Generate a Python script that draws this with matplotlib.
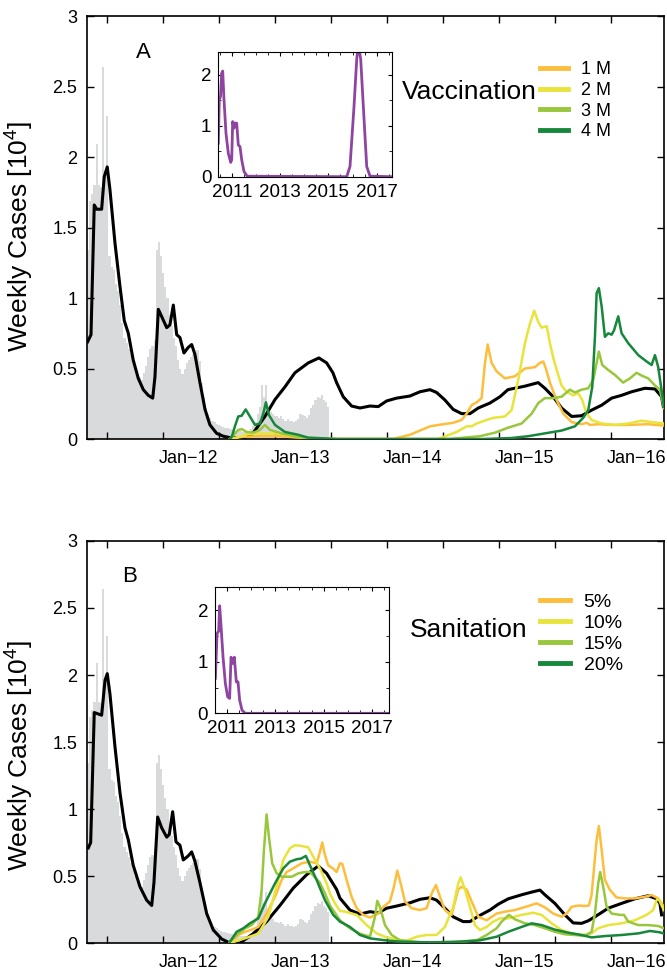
import numpy as np
import matplotlib.pyplot as plt

plt.rcParams['font.family'] = ['Liberation Sans', 'DejaVu Sans']
plt.rcParams['mathtext.fontset'] = 'custom'
plt.rcParams['mathtext.rm'] = 'Liberation Sans'

# reported weekly cases (x 10^4), one value per week from week_start
week_start = 2011.067
weekly_cases = [1.34, 1.69, 1.74, 1.80, 2.09, 1.80, 1.79, 2.64, 1.90, 2.29,
                1.30, 1.22, 1.20, 1.10, 1.05, 0.95, 0.82, 0.72, 0.68, 0.64,
                0.60, 0.55, 0.50, 0.46, 0.44, 0.42, 0.47, 0.52, 0.58, 0.64,
                0.66, 0.70, 1.34, 1.40, 1.30, 1.18, 1.08, 1.00, 0.88, 0.80,
                0.72, 0.66, 0.56, 0.50, 0.46, 0.50, 0.54, 0.56, 0.58, 0.60,
                0.62, 0.63, 0.55, 0.40, 0.30, 0.22, 0.18, 0.15, 0.13, 0.12,
                0.11, 0.10, 0.09, 0.085, 0.08, 0.075, 0.07, 0.07, 0.065, 0.06,
                0.06, 0.055, 0.05, 0.05, 0.05, 0.06, 0.07, 0.09, 0.12, 0.18,
                0.23, 0.38, 0.30, 0.38, 0.23, 0.19, 0.18, 0.16, 0.16, 0.15,
                0.16, 0.14, 0.13, 0.14, 0.13, 0.13, 0.12, 0.13, 0.14, 0.18,
                0.17, 0.16, 0.15, 0.17, 0.22, 0.24, 0.28, 0.30, 0.29, 0.31,
                0.28, 0.26, 0.23]

# baseline model (black)
black_a_t = [2011.073, 2011.103, 2011.132, 2011.154, 2011.198, 2011.221, 2011.248, 2011.272,
             2011.317, 2011.362, 2011.400, 2011.436, 2011.480, 2011.525, 2011.570, 2011.614,
             2011.654, 2011.674, 2011.704, 2011.739, 2011.779, 2011.808, 2011.838, 2011.868,
             2011.897, 2011.933, 2011.971, 2012.002, 2012.031, 2012.076, 2012.121, 2012.165,
             2012.225, 2012.284, 2012.344, 2012.478, 2012.505, 2012.540, 2012.567, 2012.656,
             2012.746, 2012.835, 2012.924, 2013.043, 2013.138, 2013.207, 2013.263, 2013.296,
             2013.355, 2013.430, 2013.505, 2013.594, 2013.668, 2013.743, 2013.832, 2013.951,
             2014.040, 2014.130, 2014.189, 2014.263, 2014.337, 2014.413, 2014.487, 2014.561,
             2014.665, 2014.755, 2014.826, 2014.978, 2015.096, 2015.156, 2015.230, 2015.305,
             2015.395, 2015.484, 2015.573, 2015.663, 2015.752, 2015.841, 2015.930, 2016.049,
             2016.139, 2016.198, 2016.214]
black_a_v = [0.69, 0.74, 1.66, 1.63, 1.63, 1.86, 1.93, 1.77,
             1.39, 1.08, 0.84, 0.75, 0.56, 0.43, 0.35, 0.31,
             0.29, 0.44, 0.92, 0.86, 0.79, 0.81, 0.95, 0.74,
             0.72, 0.61, 0.65, 0.67, 0.60, 0.40, 0.21, 0.10,
             0.04, 0.02, 0.01, 0.01, 0.03, 0.03, 0.06, 0.16,
             0.28, 0.37, 0.47, 0.54, 0.575, 0.54, 0.47, 0.40,
             0.30, 0.234, 0.22, 0.234, 0.23, 0.27, 0.29, 0.305,
             0.335, 0.35, 0.33, 0.277, 0.21, 0.18, 0.18, 0.22,
             0.255, 0.30, 0.35, 0.375, 0.40, 0.36, 0.30, 0.22,
             0.16, 0.165, 0.205, 0.24, 0.29, 0.31, 0.335, 0.36,
             0.355, 0.30, 0.23]

black_b_t = [2011.079, 2011.100, 2011.132, 2011.198, 2011.228, 2011.248, 2011.272, 2011.317,
             2011.362, 2011.406, 2011.436, 2011.480, 2011.540, 2011.600, 2011.645, 2011.665,
             2011.698, 2011.734, 2011.779, 2011.802, 2011.832, 2011.862, 2011.897, 2011.927,
             2011.971, 2012.002, 2012.031, 2012.076, 2012.136, 2012.195, 2012.270, 2012.344,
             2012.433, 2012.552, 2012.671, 2012.790, 2012.909, 2013.029, 2013.132, 2013.207,
             2013.296, 2013.326, 2013.415, 2013.505, 2013.594, 2013.668, 2013.743, 2013.832,
             2013.951, 2014.040, 2014.130, 2014.189, 2014.263, 2014.337, 2014.426, 2014.487,
             2014.561, 2014.665, 2014.740, 2014.829, 2014.948, 2015.038, 2015.112, 2015.156,
             2015.245, 2015.335, 2015.409, 2015.484, 2015.543, 2015.603, 2015.722, 2015.841,
             2015.960, 2016.079, 2016.154, 2016.183, 2016.198]
black_b_v = [0.71, 0.75, 1.72, 1.70, 1.96, 2.01, 1.86, 1.465,
             1.12, 0.86, 0.77, 0.58, 0.42, 0.32, 0.28, 0.45,
             0.94, 0.86, 0.79, 0.81, 0.98, 0.755, 0.73, 0.62,
             0.65, 0.68, 0.61, 0.45, 0.22, 0.097, 0.03, 0.0,
             0.0, 0.07, 0.16, 0.28, 0.41, 0.51, 0.575, 0.52,
             0.40, 0.335, 0.246, 0.216, 0.234, 0.225, 0.26, 0.276,
             0.30, 0.326, 0.338, 0.32, 0.26, 0.196, 0.16, 0.16,
             0.20, 0.246, 0.29, 0.33, 0.36, 0.38, 0.395, 0.36,
             0.296, 0.21, 0.15, 0.147, 0.166, 0.196, 0.26, 0.296,
             0.33, 0.353, 0.33, 0.296, 0.21]

# vaccination scenarios
vac_1m_t = [2012.344, 2012.45, 2012.6, 2012.8, 2012.95, 2013.1, 2013.8, 2013.951, 2014.040,
            2014.130, 2014.248, 2014.337, 2014.413, 2014.457, 2014.502, 2014.546, 2014.591,
            2014.621, 2014.645, 2014.680, 2014.725, 2014.799, 2014.888, 2014.978, 2015.067,
            2015.111, 2015.141, 2015.165, 2015.201, 2015.260, 2015.320, 2015.395, 2015.484,
            2015.529, 2015.558, 2015.632, 2015.752, 2015.900, 2016.076, 2016.219]
vac_1m_v = [0.0, 0.015, 0.02, 0.02, 0.01, 0.0, 0.0, 0.03, 0.06,
            0.09, 0.105, 0.115, 0.135, 0.18, 0.24, 0.26, 0.29,
            0.54, 0.67, 0.54, 0.48, 0.43, 0.445, 0.50, 0.51,
            0.54, 0.55, 0.50, 0.40, 0.277, 0.18, 0.12, 0.105,
            0.115, 0.10, 0.105, 0.10, 0.10, 0.105, 0.095]

vac_2m_t = [2012.344, 2012.45, 2012.505, 2012.62, 2012.78, 2012.92, 2013.05, 2013.2, 2014.2,
            2014.368, 2014.457, 2014.502, 2014.546, 2014.635, 2014.695, 2014.799, 2014.859,
            2014.918, 2014.978, 2015.023, 2015.061, 2015.097, 2015.127, 2015.172, 2015.201,
            2015.231, 2015.261, 2015.305, 2015.350, 2015.409, 2015.454, 2015.489, 2015.529,
            2015.573, 2015.663, 2015.781, 2015.900, 2016.019, 2016.109, 2016.219]
vac_2m_v = [0.0, 0.02, 0.035, 0.04, 0.038, 0.02, 0.01, 0.0, 0.0,
            0.05, 0.09, 0.09, 0.11, 0.135, 0.15, 0.16, 0.205,
            0.42, 0.68, 0.82, 0.91, 0.83, 0.79, 0.80, 0.68,
            0.575, 0.49, 0.38, 0.335, 0.31, 0.325, 0.277, 0.18,
            0.135, 0.11, 0.10, 0.11, 0.13, 0.12, 0.11]

vac_3m_t = [2012.344, 2012.418, 2012.451, 2012.493, 2012.552, 2012.612, 2012.656, 2012.701,
            2012.805, 2012.924, 2013.040, 2013.3, 2014.3, 2014.576, 2014.710, 2014.826,
            2014.948, 2015.038, 2015.097, 2015.156, 2015.230, 2015.305, 2015.379, 2015.424,
            2015.484, 2015.543, 2015.588, 2015.618, 2015.638, 2015.668, 2015.721, 2015.781,
            2015.855, 2015.915, 2015.975, 2016.020, 2016.079, 2016.139, 2016.183, 2016.219]
vac_3m_v = [0.0, 0.065, 0.07, 0.05, 0.045, 0.065, 0.10, 0.065,
            0.04, 0.02, 0.005, 0.0, 0.0, 0.02, 0.045, 0.08,
            0.11, 0.18, 0.255, 0.29, 0.29, 0.30, 0.35, 0.33,
            0.35, 0.36, 0.42, 0.54, 0.62, 0.525, 0.49, 0.455,
            0.40, 0.43, 0.47, 0.45, 0.43, 0.38, 0.35, 0.22]

vac_4m_t = [2012.344, 2012.362, 2012.388, 2012.418, 2012.448, 2012.484, 2012.522, 2012.567,
            2012.612, 2012.641, 2012.665, 2012.692, 2012.746, 2012.835, 2012.954, 2013.040,
            2013.3, 2014.6, 2014.859, 2015.007, 2015.156, 2015.305, 2015.424, 2015.498,
            2015.543, 2015.579, 2015.603, 2015.618, 2015.638, 2015.663, 2015.692, 2015.722,
            2015.752, 2015.773, 2015.811, 2015.841, 2015.900, 2015.990, 2016.064, 2016.109,
            2016.139, 2016.168, 2016.219]
vac_4m_v = [0.0, 0.02, 0.09, 0.16, 0.165, 0.21, 0.16, 0.10,
            0.11, 0.18, 0.26, 0.17, 0.10, 0.05, 0.03, 0.01,
            0.0, 0.0, 0.007, 0.02, 0.04, 0.06, 0.09, 0.15,
            0.205, 0.37, 0.725, 1.035, 1.07, 0.94, 0.725, 0.75,
            0.74, 0.77, 0.87, 0.75, 0.68, 0.595, 0.55, 0.525,
            0.595, 0.51, 0.23]

# sanitation scenarios
san_5_t = [2012.344, 2012.418, 2012.478, 2012.538, 2012.597, 2012.671, 2012.746, 2012.805,
           2012.850, 2012.909, 2012.984, 2013.058, 2013.118, 2013.147, 2013.168, 2013.192,
           2013.221, 2013.263, 2013.296, 2013.326, 2013.347, 2013.386, 2013.430, 2013.475,
           2013.534, 2013.594, 2013.668, 2013.713, 2013.772, 2013.808, 2013.838, 2013.868,
           2013.906, 2013.966, 2014.040, 2014.100, 2014.145, 2014.183, 2014.219, 2014.263,
           2014.323, 2014.382, 2014.413, 2014.457, 2014.502, 2014.561, 2014.636, 2014.725,
           2014.799, 2014.888, 2015.007, 2015.082, 2015.156, 2015.230, 2015.305, 2015.350,
           2015.395, 2015.454, 2015.513, 2015.549, 2015.573, 2015.596, 2015.618, 2015.638,
           2015.663, 2015.692, 2015.737, 2015.796, 2015.871, 2015.960, 2016.049, 2016.109,
           2016.168, 2016.219]
san_5_v = [0.0, 0.06, 0.084, 0.10, 0.12, 0.22, 0.345, 0.47,
           0.53, 0.557, 0.595, 0.607, 0.595, 0.68, 0.75, 0.657,
           0.58, 0.557, 0.53, 0.595, 0.59, 0.47, 0.345, 0.26,
           0.21, 0.19, 0.22, 0.27, 0.31, 0.42, 0.54, 0.445,
           0.31, 0.26, 0.246, 0.26, 0.37, 0.433, 0.345, 0.246,
           0.21, 0.40, 0.42, 0.40, 0.31, 0.196, 0.17, 0.22,
           0.234, 0.246, 0.276, 0.296, 0.266, 0.22, 0.196, 0.22,
           0.27, 0.28, 0.276, 0.28, 0.358, 0.57, 0.77, 0.873,
           0.694, 0.47, 0.396, 0.34, 0.333, 0.333, 0.345, 0.358,
           0.333, 0.27]

san_10_t = [2012.344, 2012.478, 2012.597, 2012.686, 2012.760, 2012.820, 2012.879, 2012.924,
            2012.984, 2013.043, 2013.088, 2013.147, 2013.207, 2013.237, 2013.281, 2013.326,
            2013.371, 2013.475, 2013.564, 2013.654, 2013.743, 2013.832, 2013.921, 2014.011,
            2014.100, 2014.189, 2014.263, 2014.337, 2014.382, 2014.404, 2014.442, 2014.487,
            2014.531, 2014.576, 2014.636, 2014.695, 2014.755, 2014.829, 2014.948, 2015.052,
            2015.127, 2015.216, 2015.305, 2015.395, 2015.484, 2015.573, 2015.632, 2015.722,
            2015.841, 2015.960, 2016.064, 2016.123, 2016.153, 2016.173, 2016.198, 2016.219]
san_10_v = [0.0, 0.035, 0.07, 0.196, 0.42, 0.62, 0.707, 0.73,
            0.724, 0.714, 0.644, 0.557, 0.445, 0.37, 0.296, 0.24,
            0.234, 0.21, 0.134, 0.072, 0.042, 0.027, 0.017, 0.047,
            0.06, 0.06, 0.12, 0.27, 0.445, 0.49, 0.40, 0.27,
            0.134, 0.097, 0.12, 0.16, 0.184, 0.184, 0.21, 0.226,
            0.21, 0.147, 0.097, 0.072, 0.06, 0.072, 0.11, 0.134,
            0.147, 0.17, 0.21, 0.246, 0.32, 0.33, 0.28, 0.246]

san_15_t = [2012.344, 2012.418, 2012.478, 2012.538, 2012.597, 2012.627, 2012.647, 2012.671,
            2012.692, 2012.721, 2012.761, 2012.805, 2012.895, 2012.954, 2013.013, 2013.058,
            2013.147, 2013.192, 2013.237, 2013.326, 2013.415, 2013.505, 2013.594, 2013.639,
            2013.659, 2013.683, 2013.728, 2013.788, 2013.862, 2014.040, 2014.308, 2014.546,
            2014.636, 2014.725, 2014.770, 2014.835, 2014.888, 2014.978, 2015.067, 2015.156,
            2015.245, 2015.335, 2015.424, 2015.513, 2015.573, 2015.603, 2015.632, 2015.650,
            2015.677, 2015.707, 2015.752, 2015.826, 2015.862, 2015.900, 2015.989, 2016.076,
            2016.168, 2016.219]
san_15_v = [0.01, 0.07, 0.11, 0.134, 0.196, 0.40, 0.69, 0.96,
            0.79, 0.595, 0.52, 0.495, 0.495, 0.52, 0.53, 0.53,
            0.45, 0.37, 0.28, 0.17, 0.11, 0.07, 0.047, 0.196,
            0.315, 0.27, 0.134, 0.06, 0.02, 0.005, 0.005, 0.02,
            0.06, 0.11, 0.16, 0.21, 0.177, 0.147, 0.134, 0.11,
            0.084, 0.065, 0.06, 0.052, 0.084, 0.22, 0.445, 0.53,
            0.42, 0.27, 0.22, 0.21, 0.21, 0.16, 0.134, 0.134,
            0.127, 0.11]

san_20_t = [2012.344, 2012.404, 2012.463, 2012.522, 2012.597, 2012.656, 2012.746, 2012.820,
            2012.879, 2012.939, 2012.978, 2013.022, 2013.058, 2013.118, 2013.192, 2013.266,
            2013.326, 2013.415, 2013.505, 2013.594, 2013.713, 2013.862, 2014.130, 2014.397,
            2014.576, 2014.725, 2014.829, 2014.948, 2015.038, 2015.127, 2015.245, 2015.364,
            2015.484, 2015.573, 2015.692, 2015.841, 2015.990, 2016.094, 2016.183, 2016.219]
san_20_v = [0.01, 0.084, 0.11, 0.147, 0.184, 0.296, 0.445, 0.557,
            0.607, 0.625, 0.63, 0.65, 0.58, 0.47, 0.32, 0.21,
            0.16, 0.12, 0.06, 0.035, 0.022, 0.01, 0.005, 0.01,
            0.02, 0.047, 0.084, 0.12, 0.147, 0.134, 0.10, 0.077,
            0.06, 0.042, 0.052, 0.06, 0.072, 0.09, 0.08, 0.07]

# long-run insets
inset_a_t = [2010.446, 2010.487, 2010.537, 2010.586, 2010.628, 2010.681, 2010.764, 2010.859,
             2010.959, 2011.0, 2011.041, 2011.095, 2011.137, 2011.207, 2011.273, 2011.343,
             2011.414, 2011.509, 2011.645, 2015.758, 2015.894, 2016.060, 2016.172, 2016.238,
             2016.337, 2016.445, 2016.585, 2016.722, 2017.62]
inset_a_v = [0.66, 1.51, 1.57, 2.03, 2.07, 1.51, 0.85, 0.46,
             0.28, 0.33, 1.08, 0.95, 1.05, 1.05, 0.62, 0.59,
             0.33, 0.10, 0.01, 0.0, 0.2, 1.38, 2.30, 2.60,
             2.30, 1.38, 0.2, 0.01, 0.0]

inset_b_t = [2010.517, 2010.587, 2010.653, 2010.694, 2010.752, 2010.835, 2010.930, 2011.025,
             2011.107, 2011.165, 2011.231, 2011.302, 2011.384, 2011.455, 2011.521, 2011.620,
             2011.756, 2017.694]
inset_b_v = [0.68, 1.55, 1.60, 2.09, 1.69, 1.09, 0.58, 0.32,
             0.29, 1.09, 0.97, 1.09, 0.61, 0.61, 0.26, 0.06,
             0.0, 0.0]

vac_labels = ['1 M', '2 M', '3 M', '4 M']
san_labels = ['5%', '10%', '15%', '20%']
scenario_colors = ['#fdbe3d', '#e8e43c', '#98c73c', '#17873b']
year_ticks = [2012, 2013, 2014, 2015, 2016]
year_labels = ['Jan\u221212', 'Jan\u221213', 'Jan\u221214', 'Jan\u221215', 'Jan\u221216']
inset_years = [2011, 2013, 2015, 2017]

xmin, xmax = 2011.067, 2016.219
week = 1 / 52.18
bar_t = week_start + (np.arange(len(weekly_cases)) + 0.5) * week


def draw_panel(ax, black_t, black_v, series, labels, title, letter, letter_xy, title_xy,
               legend_anchor, legend_size, legend_gap):
	ax.bar(bar_t, weekly_cases, width=week, color='#d9dadc', linewidth=0, zorder=1)
	ax.plot(black_t, black_v, color='black', lw=2.2, zorder=3)
	for (t, v), lab, c in zip(series, labels, scenario_colors):
		ax.plot(t, v, color=c, lw=1.8, label=lab, zorder=4)
	ax.set_xlim(xmin, xmax)
	ax.set_ylim(0, 3)
	ax.set_yticks(np.arange(0, 3.01, 0.5))
	ax.set_yticklabels(['0', '0.5', '1', '1.5', '2', '2.5', '3'])
	ax.set_xticks(np.arange(2011.25, 2016.0, 0.5))
	ax.set_xticklabels([])
	# month labels sit a little left of 1 January
	ax.set_xticks([y - 0.03 for y in year_ticks], minor=True)
	ax.set_xticklabels(year_labels, minor=True)
	ax.tick_params(which='both', direction='in', top=True, right=True, labelsize=13, width=1)
	ax.tick_params(which='major', length=5, pad=7)
	ax.tick_params(which='minor', length=0, pad=8)
	for s in ax.spines.values():
		s.set_linewidth(1.2)
	ax.set_ylabel('Weekly Cases [10$^4$]', fontsize=19)
	ax.text(letter_xy[0], letter_xy[1], letter, transform=ax.transAxes, fontsize=16,
	        ha='center', va='center')
	ax.text(title_xy[0], title_xy[1], title, transform=ax.transAxes, fontsize=19,
	        ha='left', va='center')
	ax.legend(loc='upper left', bbox_to_anchor=legend_anchor, frameon=False, fontsize=legend_size,
	          handlelength=1.55, handletextpad=0.7, labelspacing=legend_gap, borderaxespad=0,
	          borderpad=0)
	for line in ax.get_legend().get_lines():
		line.set_linewidth(3.5)


def draw_inset(ax, t, v, xlim):
	ax.plot(t, v, color='#8e44a0', lw=2)
	ax.set_xlim(*xlim)
	ax.set_ylim(0, 2.45)
	ax.set_xticks(inset_years)
	ax.set_xticks(np.arange(2010.5, 2017.7, 0.5), minor=True)
	ax.set_yticks([0, 1, 2])
	ax.set_yticks([0.5, 1.5], minor=True)
	ax.tick_params(which='both', direction='in', top=True, right=True, labelsize=13.5, pad=5)
	ax.tick_params(which='major', length=3)
	ax.tick_params(which='minor', length=2.5)


fig = plt.figure(figsize=(6.67, 9.73), dpi=100)
ax_a = fig.add_axes([0.1304, 0.5488, 0.865, 0.4347])
ax_b = fig.add_axes([0.1304, 0.0308, 0.865, 0.4132])

draw_panel(ax_a, black_a_t, black_a_v,
           [(vac_1m_t, vac_1m_v), (vac_2m_t, vac_2m_v), (vac_3m_t, vac_3m_v), (vac_4m_t, vac_4m_v)],
           vac_labels, 'Vaccination', 'A', (0.097, 0.915), (0.545, 0.82), (0.785, 0.893), 13, 0.2)
draw_panel(ax_b, black_b_t, black_b_v,
           [(san_5_t, san_5_v), (san_10_t, san_10_v), (san_15_t, san_15_v), (san_20_t, san_20_v)],
           san_labels, 'Sanitation', 'B', (0.0745, 0.912), (0.56, 0.779), (0.785, 0.87), 14, 0.18)
ax_a.yaxis.set_label_coords(-0.09, 0.48)
ax_b.yaxis.set_label_coords(-0.09, 0.468)

in_a = fig.add_axes([0.3273, 0.8184, 0.26, 0.1285])
in_b = fig.add_axes([0.3223, 0.2669, 0.2604, 0.1295])
draw_inset(in_a, inset_a_t, inset_a_v, (2010.446, 2017.62))
draw_inset(in_b, inset_b_t, inset_b_v, (2010.517, 2017.694))

fig.savefig('out.png', dpi=100)
